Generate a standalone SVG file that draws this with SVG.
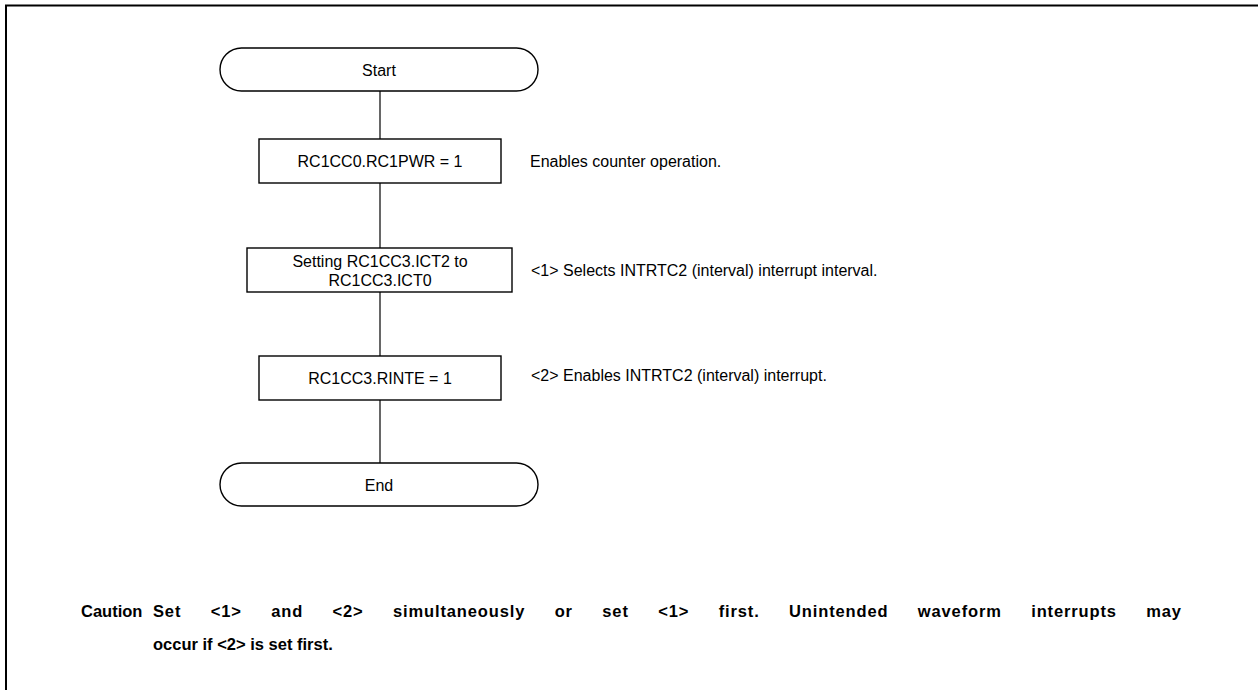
<svg xmlns="http://www.w3.org/2000/svg" width="1258" height="690" viewBox="0 0 1258 690">
<style>
.t{font-family:"Liberation Sans",Arial,sans-serif;font-size:16px;fill:#000}
.c{text-anchor:middle}
.b{font-weight:bold;font-size:16.5px}
.s{fill:#fff;stroke:#000;stroke-width:1.4}
.l{stroke:#000;stroke-width:1.2;fill:none}
</style>
<rect width="1258" height="690" fill="#fff"/>
<g id="frame"><path d="M6,690 V5.5 H1258" fill="none" stroke="#000" stroke-width="2"/></g>
<g id="connectors">
<line class="l" x1="380" y1="91" x2="380" y2="139"/>
<line class="l" x1="380" y1="183" x2="380" y2="248"/>
<line class="l" x1="380" y1="292" x2="380" y2="356"/>
<line class="l" x1="380" y1="400" x2="380" y2="463"/>
</g>
<g id="start"><rect class="s" x="220" y="48" width="318" height="43" rx="21.5"/><text class="t c" x="379" y="75.5">Start</text></g>
<g id="step1"><rect class="s" x="259" y="139" width="242" height="44"/><text class="t c" x="380" y="167">RC1CC0.RC1PWR = 1</text></g>
<g id="note1"><text class="t" x="530" y="167">Enables counter operation.</text></g>
<g id="step2"><rect class="s" x="247" y="248" width="265" height="44"/><text class="t c" x="380" y="267">Setting RC1CC3.ICT2 to</text><text class="t c" x="380" y="286">RC1CC3.ICT0</text></g>
<g id="note2"><text class="t" x="531" y="276">&lt;1&gt; Selects INTRTC2 (interval) interrupt interval.</text></g>
<g id="step3"><rect class="s" x="259" y="356" width="242" height="44"/><text class="t c" x="380" y="384">RC1CC3.RINTE = 1</text></g>
<g id="note3"><text class="t" x="531" y="381">&lt;2&gt; Enables INTRTC2 (interval) interrupt.</text></g>
<g id="end"><rect class="s" x="220" y="463" width="318" height="43" rx="21.5"/><text class="t c" x="379" y="490.5">End</text></g>
<g id="caution">
<text class="t b" x="81" y="617">Caution</text>
<text class="t b" x="153" y="617" word-spacing="24" textLength="1028" lengthAdjust="spacing">Set &lt;1&gt; and &lt;2&gt; simultaneously or set &lt;1&gt; first. Unintended waveform interrupts may</text>
<text class="t b" x="153" y="650">occur if &lt;2&gt; is set first.</text>
</g>
</svg>
